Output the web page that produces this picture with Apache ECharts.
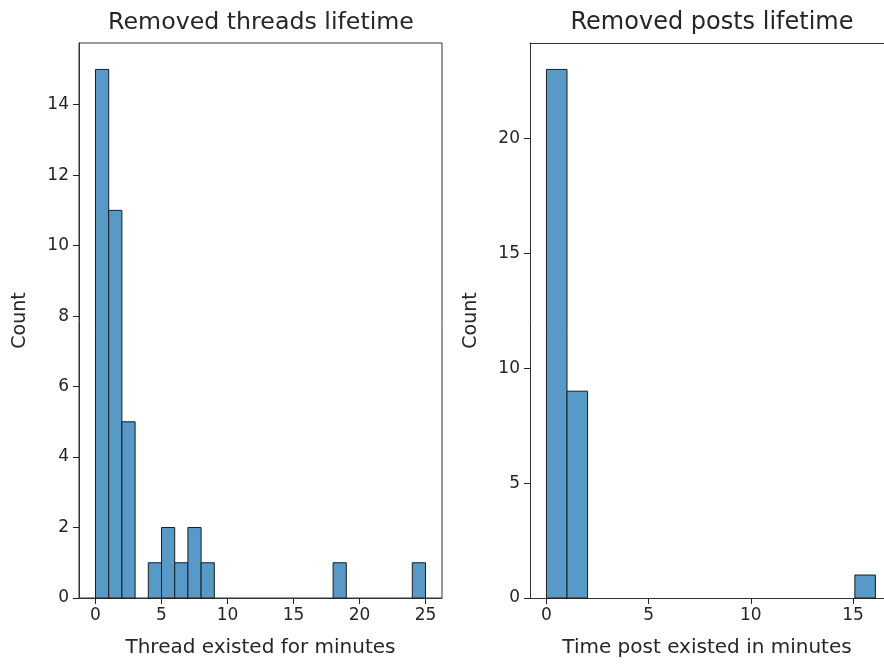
<!DOCTYPE html>
<html>
<head>
<meta charset="utf-8">
<script src="https://cdn.jsdelivr.net/npm/echarts@6/dist/echarts.min.js"></script>
<style>
  html, body { margin: 0; padding: 0; background: #fff; }
  #chart { width: 884px; height: 664px; }
</style>
</head>
<body>
<div id="chart"></div>
<script>
// Histogram of how long removed threads existed (1-minute bins starting at 0)
const threadBinStart = 0;
const threadBinWidth = 1;
const threadCounts = [15, 11, 5, 0, 1, 2, 1, 2, 1, 0, 0, 0, 0, 0, 0, 0, 0, 0, 1, 0, 0, 0, 0, 0, 1];
const threadXTicks = [0, 5, 10, 15, 20, 25];
const threadYTicks = [0, 2, 4, 6, 8, 10, 12, 14];

// Histogram of how long removed posts existed (16 bins spanning 0 to 16.1 minutes)
const postBinStart = 0;
const postBinWidth = 1.00625;
const postCounts = [23, 9, 0, 0, 0, 0, 0, 0, 0, 0, 0, 0, 0, 0, 0, 1];
const postXTicks = [0, 5, 10, 15];
const postYTicks = [0, 5, 10, 15, 20];
// The posts panel runs past the right edge of the page; this is the last visible minute
const postViewMax = 16.52;

const FONT = 'DejaVu Sans';
const TEXT = '#262626';
const BAR_FILL = '#5799c7';
const BAR_EDGE = '#1c1c1c';
const SPINE = '#333';

function binItems(start, width, counts) {
  return counts.map((c, i) => [start + i * width, start + (i + 1) * width, c]);
}

function renderBin(params, api) {
  const count = api.value(2);
  if (count <= 0) return null;
  const p0 = api.coord([api.value(0), count]);
  const p1 = api.coord([api.value(1), 0]);
  return {
    type: 'rect',
    shape: { x: p0[0], y: p0[1], width: p1[0] - p0[0], height: p1[1] - p0[1] },
    style: { fill: BAR_FILL, stroke: BAR_EDGE, lineWidth: 1 }
  };
}

function xAxisOf(gridIndex, min, max, ticks, name) {
  return {
    type: 'value', gridIndex, min, max,
    name, nameLocation: 'middle', nameGap: 40,
    nameTextStyle: { fontFamily: FONT, fontSize: 20, color: TEXT },
    axisLine: { show: true, onZero: false, lineStyle: { color: SPINE, width: 1 } },
    axisTick: { show: true, length: 6, customValues: ticks, lineStyle: { color: '#222', width: 1 } },
    axisLabel: { customValues: ticks, fontFamily: FONT, fontSize: 17, color: TEXT, margin: 9 },
    splitLine: { show: false }
  };
}

// Plain line along the top edge of a panel
function topSpineOf(gridIndex, min, max) {
  return {
    type: 'value', gridIndex, min, max, position: 'top',
    axisLine: { show: true, onZero: false, lineStyle: { color: SPINE, width: 1 } },
    axisTick: { show: false }, axisLabel: { show: false }, splitLine: { show: false }
  };
}

function yAxisOf(gridIndex, min, max, ticks) {
  return {
    type: 'value', gridIndex, min, max,
    name: 'Count', nameLocation: 'middle', nameGap: 49,
    nameTextStyle: { fontFamily: FONT, fontSize: 19, color: TEXT },
    axisLine: { show: true, onZero: false, lineStyle: { color: SPINE, width: 1 } },
    axisTick: { show: true, length: 6, customValues: ticks, lineStyle: { color: '#222', width: 1 } },
    axisLabel: { customValues: ticks, fontFamily: FONT, fontSize: 17, color: TEXT, margin: 10 },
    splitLine: { show: false }
  };
}

const threadMax = threadBinStart + threadCounts.length * threadBinWidth;
const postMax = postBinStart + postCounts.length * postBinWidth;
const threadTop = Math.max(...threadCounts) * 1.05;
const postTop = Math.max(...postCounts) * 1.05;
const threadMin = threadBinStart - 0.05 * (threadMax - threadBinStart);
const threadXMax = threadMax + 0.05 * (threadMax - threadBinStart);
const postMin = postBinStart - 0.05 * (postMax - postBinStart);

const chart = echarts.init(document.getElementById('chart'), null, { renderer: 'canvas' });
chart.setOption({
  backgroundColor: '#fff',
  animation: false,
  title: [
    { text: 'Removed threads lifetime', left: 256, top: 6, textAlign: 'center',
      textStyle: { fontFamily: FONT, fontSize: 23.7, fontWeight: 'normal', color: TEXT } },
    { text: 'Removed posts lifetime', left: 707, top: 6, textAlign: 'center',
      textStyle: { fontFamily: FONT, fontSize: 24, fontWeight: 'normal', color: TEXT } }
  ],
  grid: [
    { left: 79, top: 43, right: 442, bottom: 66, show: true, borderColor: SPINE, borderWidth: 1, backgroundColor: '#fff' },
    { left: 530, top: 43, right: 0, bottom: 66, show: false }
  ],
  xAxis: [
    xAxisOf(0, threadMin, threadXMax, threadXTicks, 'Thread existed for minutes'),
    xAxisOf(1, postMin, postViewMax, postXTicks, 'Time post existed in minutes'),
    topSpineOf(1, postMin, postViewMax)
  ],
  yAxis: [
    yAxisOf(0, 0, threadTop, threadYTicks),
    yAxisOf(1, 0, postTop, postYTicks)
  ],
  series: [
    { type: 'custom', xAxisIndex: 0, yAxisIndex: 0, renderItem: renderBin,
      encode: { x: [0, 1], y: 2 }, data: binItems(threadBinStart, threadBinWidth, threadCounts) },
    { type: 'custom', xAxisIndex: 1, yAxisIndex: 1, renderItem: renderBin,
      encode: { x: [0, 1], y: 2 }, data: binItems(postBinStart, postBinWidth, postCounts) }
  ]
});
</script>
</body>
</html>
